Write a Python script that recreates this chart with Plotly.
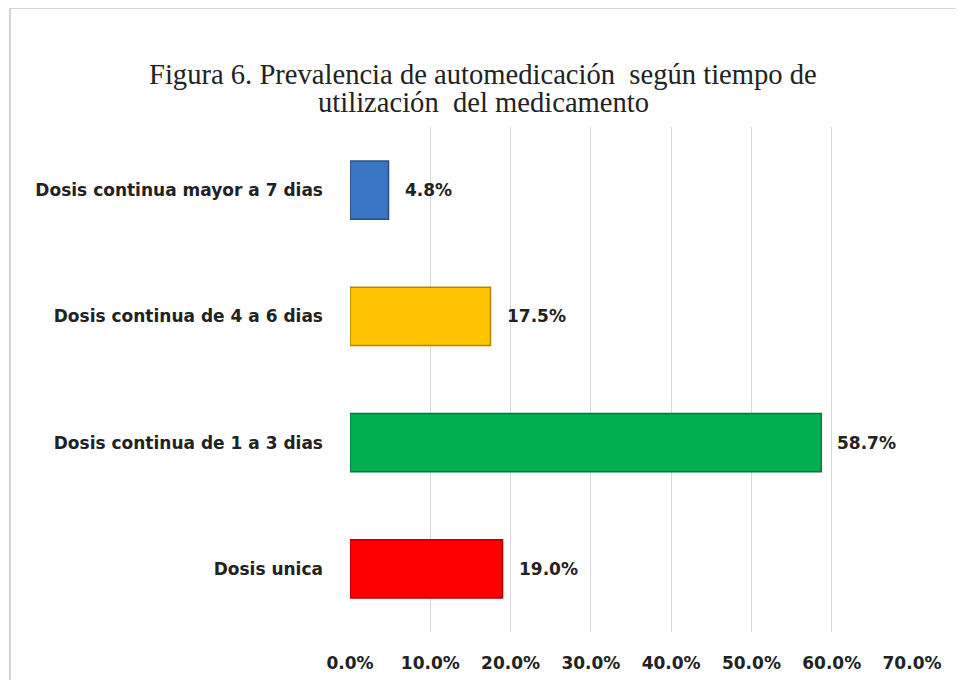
import plotly.graph_objects as go

# Datos de la figura
categorias = [
    "Dosis continua mayor a 7 dias",
    "Dosis continua de 4 a 6 dias",
    "Dosis continua de 1 a 3 dias",
    "Dosis unica",
]
porcentajes = [4.8, 17.5, 58.7, 19.0]
colores = ["#3a75c4", "#ffc400", "#00b050", "#ff0000"]
bordes = ["#2a4f86", "#b38600", "#007a38", "#b00000"]
ticks_x = [0, 10, 20, 30, 40, 50, 60, 70]
titulo = [
    "Figura 6. Prevalencia de automedicación  según tiempo de",
    "utilización  del medicamento",
]

# la pagina tiene 8px de margen en el body, se descuenta aqui
OFF = 8
W, H = 964 - 2 * OFF, 688 - 2 * OFF
L, T = 350 - OFF, 127 - OFF
R, B = W - L - 562, H - T - 505

fuente = dict(family="DejaVu Sans", size=17, color="#222222", weight="bold")

fig = go.Figure()
fig.add_trace(go.Bar(
    x=porcentajes, y=categorias, orientation="h",
    marker=dict(color=colores, line=dict(color=bordes, width=1.5)),
    width=0.46, hoverinfo="skip",
))

for v, c in zip(porcentajes, categorias):
    fig.add_annotation(
        x=v, y=c, text=f"{v:.1f}%", showarrow=False,
        xanchor="left", xshift=14, font=fuente,
    )

# pixeles de la pagina -> coordenadas paper
pw, ph = W - L - R, H - T - B
def px(x):
    return (x - OFF - L) / pw
def py(y):
    return (H + OFF - B - y) / ph

for linea, ylin in zip(titulo, [75, 103]):
    fig.add_annotation(
        x=px(483), y=py(ylin), xref="paper", yref="paper",
        text=linea, showarrow=False, xanchor="center", yanchor="middle",
        font=dict(family="Liberation Serif", size=28.6, color="#222222"),
    )

# marco exterior
fig.add_shape(type="line", xref="paper", yref="paper",
              x0=px(10), x1=px(964), y0=py(8), y1=py(8),
              line=dict(color="#c8c8c8", width=1.5))
fig.add_shape(type="line", xref="paper", yref="paper",
              x0=px(10), x1=px(10), y0=py(8), y1=py(688),
              line=dict(color="#c8c8c8", width=1.5))

fig.update_layout(
    width=W, height=H,
    margin=dict(l=L, r=R, t=T, b=B),
    paper_bgcolor="white", plot_bgcolor="white",
    showlegend=False,
    xaxis=dict(
        range=[0, 70], tickvals=ticks_x,
        ticktext=[f"{t:.1f}%" for t in ticks_x],
        showgrid=True, gridcolor="#d9d9d9", gridwidth=1,
        zeroline=False, showline=False, ticks="", automargin=False,
        tickfont=fuente, ticklabelstandoff=19,
    ),
    yaxis=dict(
        autorange="reversed", showgrid=False, showline=False, ticks="",
        automargin=False, tickfont=fuente, ticklabelstandoff=26,
    ),
)

fig.write_html("out.html")
